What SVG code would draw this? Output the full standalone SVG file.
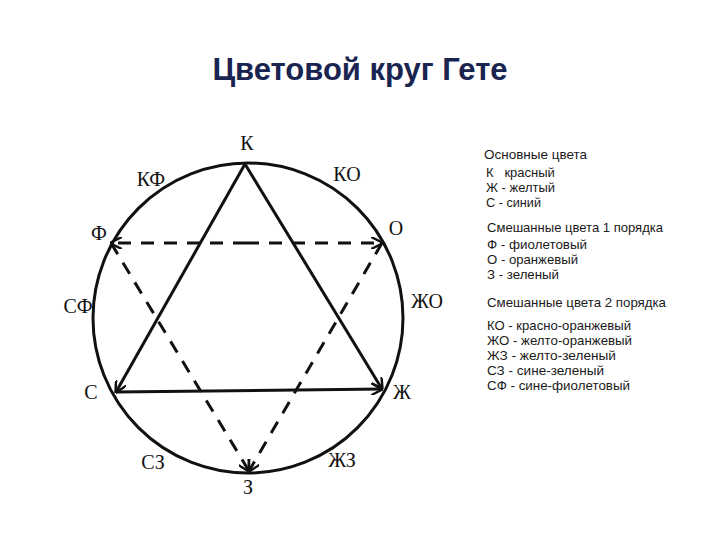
<svg xmlns="http://www.w3.org/2000/svg" width="720" height="540" viewBox="0 0 720 540">
<style>
.lbl{font-family:"Liberation Serif","DejaVu Serif",serif;font-size:20px;fill:#111}
.leg{font-family:"Liberation Sans","DejaVu Sans",sans-serif;font-size:13px;fill:#1a1a1a}
.ttl{font-family:"Liberation Sans","DejaVu Sans",sans-serif;font-size:31px;font-weight:bold;fill:#1a2450}
.solid{stroke:#111;stroke-width:3;fill:none}
.dash{stroke:#111;stroke-width:3;fill:none;stroke-dasharray:13 10}
</style>
<defs>
<marker id="ar" viewBox="0 0 10 10" refX="9" refY="5" markerWidth="4" markerHeight="4" orient="auto" markerUnits="strokeWidth">
<path d="M0,0 L10,5 L0,10" fill="none" stroke="#111" stroke-width="2"/>
</marker>
</defs>
<rect width="720" height="540" fill="#fff"/>
<text class="ttl" x="360" y="80" text-anchor="middle">Цветовой круг Гете</text>
<g id="circle"><circle cx="248" cy="318" r="155" class="solid"/></g>
<g id="connectors">
<line x1="245" y1="164" x2="382" y2="389" class="solid" marker-end="url(#ar)"/>
<line x1="245" y1="164" x2="116" y2="392" class="solid" marker-end="url(#ar)"/>
<line x1="116" y1="392" x2="382" y2="389" class="solid" marker-end="url(#ar)"/>
<line x1="246" y1="243" x2="111" y2="243" class="dash" marker-end="url(#ar)"/>
<line x1="246" y1="243" x2="382" y2="243" class="dash" marker-end="url(#ar)"/>
<line x1="111" y1="243" x2="249" y2="471" class="dash" marker-end="url(#ar)"/>
<line x1="382" y1="243" x2="249" y2="471" class="dash" marker-end="url(#ar)"/>
</g>
<g id="labels">
<text class="lbl" x="247" y="150" text-anchor="middle">К</text>
<text class="lbl" x="151" y="186" text-anchor="middle">КФ</text>
<text class="lbl" x="347" y="181" text-anchor="middle">КО</text>
<text class="lbl" x="99" y="240" text-anchor="middle">Ф</text>
<text class="lbl" x="396" y="235" text-anchor="middle">О</text>
<text class="lbl" x="78" y="313" text-anchor="middle">СФ</text>
<text class="lbl" x="427" y="308" text-anchor="middle">ЖО</text>
<text class="lbl" x="91" y="399" text-anchor="middle">С</text>
<text class="lbl" x="402" y="399" text-anchor="middle">Ж</text>
<text class="lbl" x="153" y="469" text-anchor="middle">СЗ</text>
<text class="lbl" x="342" y="467" text-anchor="middle">ЖЗ</text>
<text class="lbl" x="248" y="494" text-anchor="middle">З</text>
</g>
<g id="legend">
<text class="leg" x="484" y="159" textLength="103" lengthAdjust="spacingAndGlyphs">Основные цвета</text>
<text class="leg" x="486" y="177" xml:space="preserve" style="white-space:pre">К   красный</text>
<text class="leg" x="486" y="192" textLength="69" lengthAdjust="spacingAndGlyphs">Ж - желтый</text>
<text class="leg" x="486" y="207" textLength="55" lengthAdjust="spacingAndGlyphs">С - синий</text>
<text class="leg" x="487" y="232" textLength="176" lengthAdjust="spacingAndGlyphs">Смешанные цвета 1 порядка</text>
<text class="leg" x="487" y="249" textLength="100" lengthAdjust="spacingAndGlyphs">Ф - фиолетовый</text>
<text class="leg" x="487" y="264" textLength="91" lengthAdjust="spacingAndGlyphs">О - оранжевый</text>
<text class="leg" x="487" y="279" textLength="72" lengthAdjust="spacingAndGlyphs">З - зеленый</text>
<text class="leg" x="487" y="307" textLength="179" lengthAdjust="spacingAndGlyphs">Смешанные цвета 2 порядка</text>
<text class="leg" x="487" y="330" textLength="144" lengthAdjust="spacingAndGlyphs">КО - красно-оранжевый</text>
<text class="leg" x="487" y="345" textLength="145" lengthAdjust="spacingAndGlyphs">ЖО - желто-оранжевый</text>
<text class="leg" x="487" y="360" textLength="129" lengthAdjust="spacingAndGlyphs">ЖЗ - желто-зеленый</text>
<text class="leg" x="487" y="375" textLength="117" lengthAdjust="spacingAndGlyphs">СЗ - сине-зеленый</text>
<text class="leg" x="487" y="390" textLength="143" lengthAdjust="spacingAndGlyphs">СФ - сине-фиолетовый</text>
</g>
</svg>
